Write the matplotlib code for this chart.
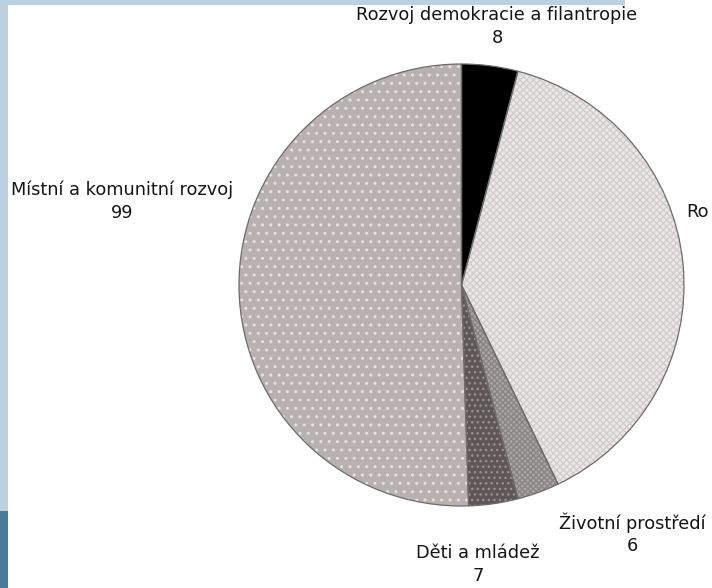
import matplotlib
matplotlib.use("Agg")
import matplotlib.pyplot as plt
from matplotlib.patches import Rectangle

# visible label texts (the second label is cut off at the right edge in the source)
labels = ["Rozvoj demokracie a filantropie", "Ro",
          "Životní prostředí", "Děti a mládež", "Místní a komunitní rozvoj"]
values = [8, 76, 6, 7, 99]
show_value = [True, False, True, True, True]

face_colors = ["#000000", "#ebe8e8", "#aca7a7", "#5f5757", "#b9b1af"]
hatch_colors = ["#000000", "#d2cdcd", "#8a8585", "#9a9292", "#e6e2e0"]
hatches = [None, "xxxxx", "xxxxxx", "...", ".."]

# label anchor positions in figure pixels (x, y from top)
label_pos = [(497, 15), (686, 212), (632, 523), (478, 553), (122, 190)]
label_ha = ["center", "left", "center", "center", "center"]

W, H = 712, 588
fig = plt.figure(figsize=(W / 100, H / 100), dpi=100)
fig.patch.set_facecolor("white")

# decorative frame strips
fig.patches.append(Rectangle((0, 0), 8 / W, 1, transform=fig.transFigure,
                             facecolor="#bdd0df", edgecolor="none", zorder=0))
fig.patches.append(Rectangle((0, 1 - 5 / H), 625 / W, 5 / H, transform=fig.transFigure,
                             facecolor="#bdd0df", edgecolor="none", zorder=0))
fig.patches.append(Rectangle((0, 0), 8 / W, (H - 511) / H, transform=fig.transFigure,
                             facecolor="#4b7b9b", edgecolor="none", zorder=0))

ax = fig.add_axes([239 / W, (H - 506) / H, 445 / W, 442 / H])
ax.axis("off")

wedges, _ = ax.pie(values, startangle=90, counterclock=False,
                   colors=face_colors, wedgeprops=dict(linewidth=0))
hw, _ = ax.pie(values, startangle=90, counterclock=False,
               wedgeprops=dict(linewidth=0, fill=False))
for w, h, c in zip(hw, hatches, hatch_colors):
    if h:
        w.set_hatch(h)
        w.set_edgecolor(c)
        w.set_linewidth(0)
ow, _ = ax.pie(values, startangle=90, counterclock=False,
               wedgeprops=dict(linewidth=0.9, fill=False, edgecolor="#6e6a6a"))
ax.set_aspect("auto")
ax.set_xlim(-1, 1)
ax.set_ylim(-1, 1)

fs = 12.8
for lab, val, (px, py), ha, sv in zip(labels, values, label_pos, label_ha, show_value):
    fig.text(px / W, 1 - py / H, lab, ha=ha, va="center", fontsize=fs,
             family="DejaVu Sans", color="#151515")
    if sv:
        fig.text(px / W, 1 - (py + 23) / H, str(val),
                 ha="center", va="center", fontsize=fs, family="DejaVu Sans",
                 color="#151515")

fig.savefig("out.png", dpi=100)
